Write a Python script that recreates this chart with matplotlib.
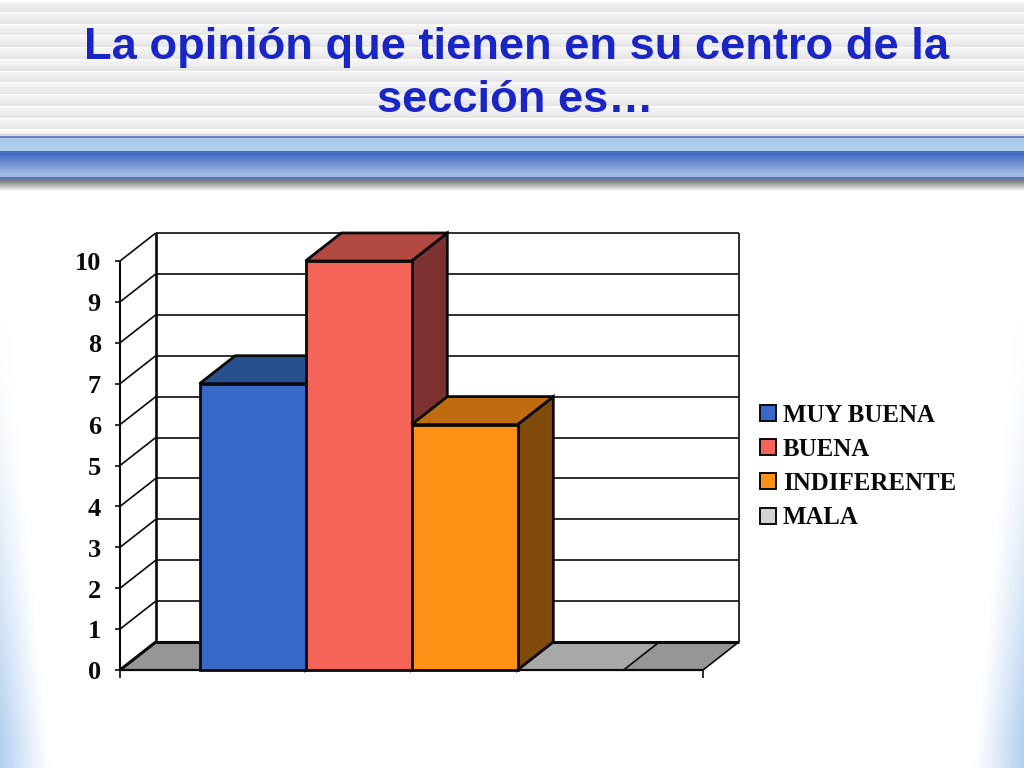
import numpy as np
import matplotlib
matplotlib.use("Agg")
import matplotlib.pyplot as plt
from matplotlib.patches import Polygon, Rectangle

TITLE = "La opinión que tienen en su centro de la\nsección es…"
series_names = ["MUY BUENA", "BUENA", "INDIFERENTE", "MALA"]
series_values = [7, 10, 6, 0]
front_colors = ["#3868c8", "#f46458", "#ff9216", "#d2d2d2"]
top_colors = ["#28508f", "#b24a42", "#bf6c10", "#a8a8a8"]
side_colors = ["#1f3f72", "#7c3230", "#7f4a0a", "#8c8c8c"]
value_ticks = list(range(0, 11))

W, H = 1024, 768

# ---------- slide background ----------
bg = np.ones((H, W, 3))
ys = np.arange(H)
phase = ((ys - 0.7) % 11.75) / 11.75
gray = 0.965 - 0.075 * phase
gray[phase > 0.90] = 1.0
for y in range(0, 134):
    bg[y, :, :] = gray[y]
bg[0:2, :, :] = 1.0
bg[134:136, :, :] = 0.86


def lerp(a, b, t):
    a = np.array(matplotlib.colors.to_rgb(a))
    b = np.array(matplotlib.colors.to_rgb(b))
    return a + (b - a) * t


bg[136:138] = matplotlib.colors.to_rgb("#6f7fc4")
for y in range(138, 151):
    bg[y] = lerp("#a8c8ea", "#b0d0ee", (y - 138) / 13)
bg[151:153] = matplotlib.colors.to_rgb("#4a6fc0")
for y in range(153, 177):
    bg[y] = lerp("#3f69c2", "#a2b8e4", min(1, (y - 153) / 20))
bg[177:180] = matplotlib.colors.to_rgb("#5f76bd")
for y in range(180, 193):
    bg[y] = lerp("#7a7a7a", "#ffffff", (y - 180) / 11) if y < 191 else 1.0
# side glow
edge = np.array(matplotlib.colors.to_rgb("#b2cff0"))
xs = np.arange(W)
for y in range(320, H):
    t = (y - 320) / (H - 320)
    width = 8 + 42 * t
    strength = min(1.0, t ** 1.5 * 1.1)
    a = np.clip(1 - xs / width, 0, 1) ** 1.1 * strength
    a = np.maximum(a, np.clip(1 - (W - 1 - xs) / width, 0, 1) ** 1.1 * strength)
    bg[y] = bg[y] * (1 - a[:, None]) + edge * a[:, None]

plt.rcParams["font.family"] = ["Liberation Serif", "DejaVu Serif"]
fig = plt.figure(figsize=(W / 100, H / 100), dpi=100)
ax_bg = fig.add_axes([0, 0, 1, 1], zorder=0)
ax_bg.imshow(bg, aspect="auto", extent=(0, W, H, 0), interpolation="nearest")
ax_bg.set_xlim(0, W)
ax_bg.set_ylim(H, 0)
ax_bg.axis("off")

fig.text(516.5 / W, 1 - 47 / H, TITLE.split("\n")[0], ha="center", va="center",
         family=["Liberation Sans"], fontweight="bold", fontsize=32.6, color="#1a25c6")
fig.text(515 / W, 1 - 100 / H, TITLE.split("\n")[1], ha="center", va="center",
         family=["Liberation Sans"], fontweight="bold", fontsize=32.6, color="#1a25c6")

# ---------- 3-D-looking column chart ----------
L, R, B, T = 120, 739, 670, 233
ax = fig.add_axes([L / W, 1 - B / H, (R - L) / W, (B - T) / H], zorder=2)
ax.patch.set_alpha(0)
unit = 106.0
per_value = (670 - 261) / 10.0
dx = 35.8 / unit
dy = 28.0 / per_value
gap = 79.5 / unit
n = len(series_values)
x_end = 583.0 / unit
ax.set_xlim(0, (R - L) / unit)
ax.set_ylim(0, (B - T) / per_value)
ax.axis("off")
ymax = value_ticks[-1]
LW = 2.0
k = "#0a0a0a"


def poly(pts, fc, lw=LW, z=3):
    ax.add_patch(Polygon(pts, closed=True, fc=fc, ec=k, lw=lw, joinstyle="miter", zorder=z, clip_on=False))


def line(xv, yv, lw=LW, z=2):
    ax.plot(xv, yv, color=k, lw=lw, solid_capstyle="butt", zorder=z, clip_on=False)


ax.add_patch(Rectangle((dx, dy), x_end, ymax, fc="white", ec="none", zorder=1))
ax.add_patch(Polygon([(0, 0), (dx, dy), (dx, ymax + dy), (0, ymax)], fc="white", ec="none", zorder=1))
for v in value_ticks[1:]:
    line([dx, dx + x_end], [v + dy, v + dy], lw=1.2)
    line([0, dx], [v, v + dy], lw=1.2)
line([dx, dx], [dy, ymax + dy], lw=1.9)
line([dx + x_end, dx + x_end], [dy, ymax + dy], lw=1.2)
line([0, 0], [0, ymax], lw=1.5)
poly([(0, 0), (x_end, 0), (x_end + dx, dy), (dx, dy)], "#969696", lw=1.2, z=2)
line([dx, dx + x_end], [dy, dy], lw=2.2, z=2.5)
line([0, dx], [0, dy], lw=2.2, z=2.5)
tick_dx = 5.5 / unit
for v in value_ticks:
    line([-tick_dx, 0], [v, v], lw=1.2)
    ax.text(-19 / unit, v - 0.07, str(v), ha="right", va="center", fontsize=19,
            fontweight="bold", color=k)
line([0, x_end], [0, 0], lw=1.6, z=2.6)
line([0, 0], [0, -8 / per_value], lw=1.2)
line([x_end, x_end], [0, -8 / per_value], lw=1.2)

for i, (v, fc, tc, sc) in enumerate(zip(series_values, front_colors, top_colors, side_colors)):
    x0, x1 = gap + i, gap + i + 1
    z = 3 + i * 0.1
    if v > 0:
        poly([(x1, 0), (x1 + dx, dy), (x1 + dx, v + dy), (x1, v)], sc, z=z)
        poly([(x0, v), (x1, v), (x1 + dx, v + dy), (x0 + dx, v + dy)], tc, z=z)
        poly([(x0, 0), (x1, 0), (x1, v), (x0, v)], fc, z=z + 0.01)
    else:
        poly([(x0, v), (x1, v), (x1 + dx, v + dy), (x0 + dx, v + dy)], tc, lw=1.2, z=2.4)

for name, fc, y in zip(series_names, front_colors, [413, 447, 481, 516]):
    fig.add_artist(Rectangle((760 / W, 1 - (y + 8) / H), 16 / W, 16 / H, transform=fig.transFigure,
                             fc=fc, ec=k, lw=1.4, zorder=3))
    fig.text(783 / W, 1 - (y + 2) / H, name, ha="left", va="center", fontsize=17.9,
             fontweight="bold", color=k, zorder=3)

fig.savefig("out.png", dpi=100)
